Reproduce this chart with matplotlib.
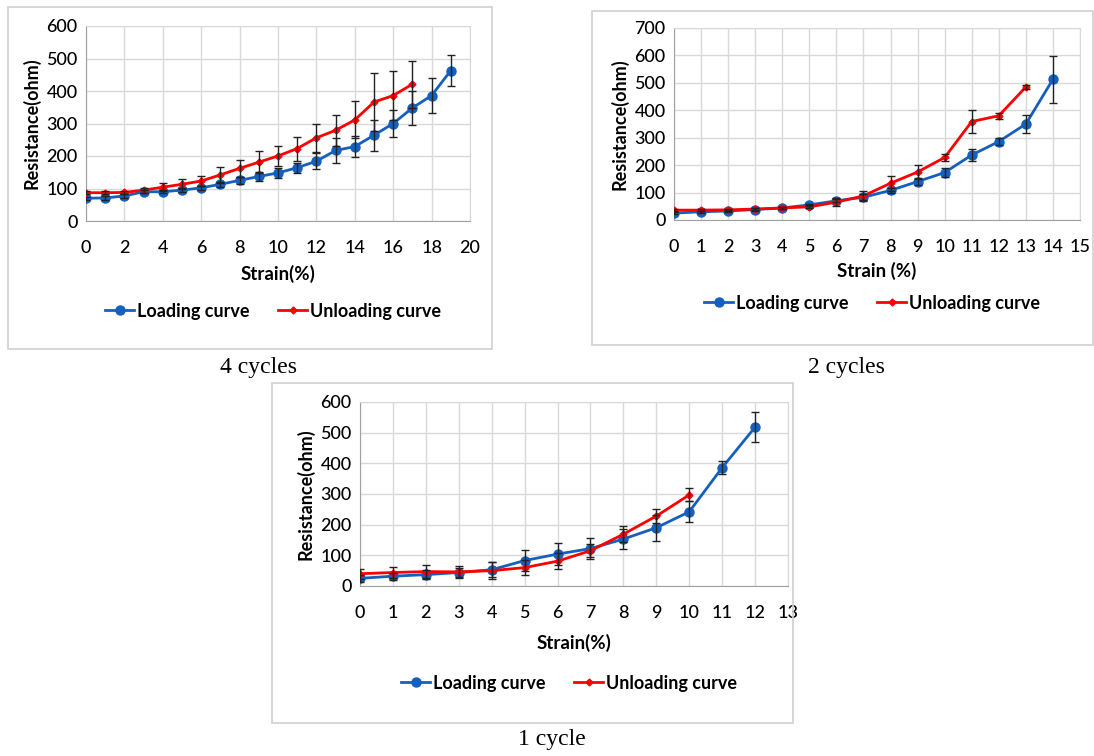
import matplotlib.pyplot as plt
from matplotlib.patches import Rectangle

W, H = 1094, 756

# 4 cycles
x4_load = list(range(0, 20))
r4_load = [70, 71, 77, 90, 90, 95, 102, 113, 125, 137, 148, 164, 184, 217, 229, 264, 300, 348, 386, 463]
e4_load = [5, 5, 5, 5, 5, 6, 6, 8, 10, 14, 15, 15, 25, 38, 32, 48, 42, 53, 55, 48]
x4_unload = list(range(0, 18))
r4_unload = [87, 87, 88, 95, 104, 113, 123, 142, 162, 181, 200, 223, 256, 279, 311, 366, 386, 421]
e4_unload = [4, 4, 5, 8, 13, 15, 16, 25, 27, 33, 32, 37, 43, 47, 57, 89, 76, 72]

# 2 cycles
x2_load = list(range(0, 15))
r2_load = [25, 30, 33, 38, 44, 55, 70, 83, 108, 140, 173, 237, 286, 350, 513]
e2_load = [4, 4, 4, 4, 4, 5, 6, 10, 10, 12, 15, 22, 12, 33, 86]
x2_unload = list(range(0, 14))
r2_unload = [36, 36, 37, 40, 44, 48, 65, 88, 134, 175, 228, 359, 380, 485]
e2_unload = [4, 4, 4, 4, 5, 6, 15, 18, 28, 24, 12, 41, 10, 6]

# 1 cycle
x1_load = list(range(0, 13))
r1_load = [25, 32, 37, 44, 53, 83, 104, 122, 153, 190, 242, 386, 518]
e1_load = [12, 12, 15, 15, 25, 33, 37, 33, 33, 43, 34, 22, 50]
x1_unload = list(range(0, 11))
r1_unload = [40, 44, 47, 46, 50, 60, 81, 115, 169, 228, 297]
e1_unload = [17, 17, 20, 20, 28, 25, 27, 22, 27, 22, 21]

BLUE = '#1560bd'
RED = '#ff0000'
FONT = 'Lato'

panels = [
    dict(box=(8, 7, 492, 349), ax=(86, 26, 470, 221), xlim=20, xstep=2, ylim=600, ystep=100,
         xlabel='Strain(%)', xlab_y=274, leg_y=311, cap='4 cycles', cap_xy=(258, 368),
         data=(x4_load, r4_load, e4_load, x4_unload, r4_unload, e4_unload)),
    dict(box=(592, 11, 1093, 345), ax=(674, 28, 1080, 220), xlim=15, xstep=1, ylim=700, ystep=100,
         xlabel='Strain (%)', xlab_y=271, leg_y=303, cap='2 cycles', cap_xy=(846, 368),
         data=(x2_load, r2_load, e2_load, x2_unload, r2_unload, e2_unload)),
    dict(box=(272, 383, 793, 723), ax=(360, 402, 788, 586), xlim=13, xstep=1, ylim=600, ystep=100,
         xlabel='Strain(%)', xlab_y=643, leg_y=683, cap='1 cycle', cap_xy=(552, 740),
         data=(x1_load, r1_load, e1_load, x1_unload, r1_unload, e1_unload)),
]

fig = plt.figure(figsize=(W / 100, H / 100), dpi=100)

for p in panels:
    bx0, by0, bx1, by1 = p['box']
    fig.patches.append(Rectangle((bx0 / W, 1 - by1 / H), (bx1 - bx0) / W, (by1 - by0) / H,
                                 transform=fig.transFigure, fill=False, edgecolor='#d0d0d0', lw=1.2))
    x0, y0, x1, y1 = p['ax']
    ax = fig.add_axes([x0 / W, 1 - y1 / H, (x1 - x0) / W, (y1 - y0) / H])
    xl, rl, el, xu, ru, eu = p['data']
    ax.errorbar(xu, ru, yerr=eu, fmt='none', ecolor='#222222', elinewidth=1, capsize=3, zorder=4)
    ax.errorbar(xl, rl, yerr=el, fmt='none', ecolor='#222222', elinewidth=1, capsize=3, zorder=4)
    ax.plot(xl, rl, color=BLUE, lw=2, marker='o', ms=6.5, zorder=3, label='Loading curve')
    ax.plot(xu, ru, color=RED, lw=2, marker='D', ms=3.5, zorder=3, label='Unloading curve')
    ax.set_xlim(0, p['xlim'])
    ax.set_ylim(0, p['ylim'])
    ax.set_xticks(range(0, p['xlim'] + 1, p['xstep']))
    ax.set_yticks(range(0, p['ylim'] + 1, p['ystep']))
    ax.grid(True, color='#d9d9d9', lw=1)
    ax.set_axisbelow(True)
    for s in ['top', 'right']:
        ax.spines[s].set_color('#d9d9d9')
    for s in ['left', 'bottom']:
        ax.spines[s].set_color('#a0a0a0')
    ax.tick_params(length=0, pad=14, labelsize=13, labelcolor='#000000')
    for lab in ax.get_xticklabels() + ax.get_yticklabels():
        lab.set_fontfamily(FONT)
        lab.set_fontweight('medium')
    ax.tick_params(axis='y', pad=6)
    ax.set_ylabel('Resistance(ohm)', fontsize=13, fontweight='bold', family=FONT, labelpad=4)
    cx = (x0 + x1) / 2
    fig.text(cx / W, 1 - p['xlab_y'] / H, p['xlabel'], ha='center', va='center',
             fontsize=13.5, fontweight='bold', family=FONT)
    ax.legend(loc='center', bbox_to_anchor=((cx - x0 - 5) / (x1 - x0), -(p['leg_y'] - y1) / (y1 - y0)),
              ncol=2, frameon=False, handlelength=1.6, handletextpad=0.15, columnspacing=1.6,
              prop={'family': FONT, 'weight': 'bold', 'size': 13})
    fig.text(p['cap_xy'][0] / W, 1 - p['cap_xy'][1] / H, p['cap'], ha='center', va='center',
             fontsize=17, family='Liberation Serif')

fig.savefig('out.png', dpi=100)
